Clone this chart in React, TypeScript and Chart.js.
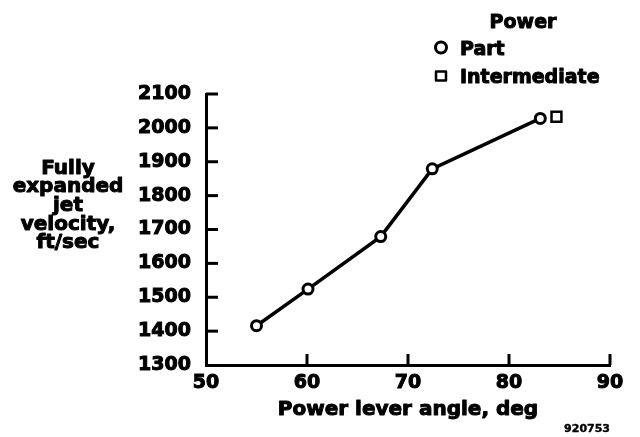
import React, { useEffect, useRef } from "react";
import { Chart, registerables } from "chart.js";

Chart.register(...registerables);

// ---- data ----
const partAngle = [55.0, 60.1, 67.3, 72.4, 83.1];
const partVelocity = [1416, 1524, 1679, 1879, 2028];
const intermediateAngle = [84.7];
const intermediateVelocity = [2033];

const xTickValues = [50, 60, 70, 80, 90];
const yTickValues = [1300, 1400, 1500, 1600, 1700, 1800, 1900, 2000, 2100];

const xTitle = "Power lever angle, deg";
const yTitleLines = ["Fully", "expanded", "jet", "velocity,", "ft/sec"];
const legendTitle = "Power";
const seriesNames = ["Part", "Intermediate"];
const figureId = "920753";

const FONT = '"DejaVu Sans", "Liberation Sans", Arial, sans-serif';

function heavyText(ctx: CanvasRenderingContext2D, t: string, x: number, y: number, sw: number) {
  ctx.lineWidth = sw;
  ctx.lineJoin = "round";
  ctx.strokeText(t, x, y);
  ctx.fillText(t, x, y);
}

const decorPlugin = {
  id: "decor",
  afterDraw(chart: any) {
    const { ctx, chartArea, scales } = chart;
    const xs = scales.x;
    const ys = scales.y;
    ctx.save();
    ctx.strokeStyle = "#000";
    ctx.fillStyle = "#000";
    ctx.lineWidth = 3;
    ctx.lineCap = "butt";
    // inward ticks on y axis
    yTickValues.forEach((v) => {
      if (v === yTickValues[0]) return;
      const py = ys.getPixelForValue(v);
      ctx.beginPath();
      ctx.moveTo(chartArea.left, py);
      ctx.lineTo(chartArea.left + 12, py);
      ctx.stroke();
    });
    // inward ticks on x axis
    xTickValues.forEach((v) => {
      if (v === xTickValues[0]) return;
      const px = xs.getPixelForValue(v);
      ctx.beginPath();
      ctx.moveTo(px, chartArea.bottom);
      ctx.lineTo(px, chartArea.bottom - 11);
      ctx.stroke();
    });

    // x title
    ctx.font = `bold 20px ${FONT}`;
    ctx.textAlign = "center";
    ctx.textBaseline = "alphabetic";
    heavyText(ctx, xTitle, (chartArea.left + chartArea.right) / 2, 415, 1);

    // y title (horizontal, multi-line)
    yTitleLines.forEach((t, i) => {
      heavyText(ctx, t, 68, 173.5 + i * 18.7, 1);
    });

    // legend
    ctx.font = `bold 19px ${FONT}`;
    ctx.textAlign = "center";
    heavyText(ctx, legendTitle, 523, 28, 1);
    ctx.textAlign = "left";
    heavyText(ctx, seriesNames[0], 460, 55, 1);
    heavyText(ctx, seriesNames[1], 460, 83, 1);
    ctx.lineWidth = 3;
    ctx.fillStyle = "#fff";
    ctx.beginPath();
    ctx.arc(441, 47.5, 5.5, 0, Math.PI * 2);
    ctx.fill();
    ctx.stroke();
    ctx.lineWidth = 2.5;
    ctx.beginPath();
    ctx.rect(436, 71.5, 10, 9);
    ctx.fill();
    ctx.stroke();

    // figure id
    ctx.fillStyle = "#000";
    ctx.font = `bold 11px ${FONT}`;
    ctx.textAlign = "right";
    heavyText(ctx, figureId, 610, 432, 0.4);
    ctx.restore();
  },
};

export default function App() {
  const ref = useRef<HTMLCanvasElement | null>(null);

  useEffect(() => {
    if (!ref.current) return;
    const tickFont = { family: FONT, size: 19, weight: "bold" as const };
    const chart = new Chart(ref.current, {
      type: "scatter",
      data: {
        datasets: [
          {
            label: seriesNames[0],
            data: partAngle.map((x, i) => ({ x, y: partVelocity[i] })),
            showLine: true,
            borderColor: "#000",
            borderWidth: 3.5,
            pointStyle: "circle",
            pointRadius: 5,
            pointBorderWidth: 3,
            pointBackgroundColor: "#fff",
            pointBorderColor: "#000",
          },
          {
            label: seriesNames[1],
            data: intermediateAngle.map((x, i) => ({ x, y: intermediateVelocity[i] })),
            showLine: false,
            pointStyle: "rect",
            pointRadius: 7,
            pointBorderWidth: 2.5,
            pointBackgroundColor: "#fff",
            pointBorderColor: "#000",
          },
        ],
      },
      options: {
        responsive: false,
        animation: false,
        layout: { padding: { top: 94, right: 30, left: 0, bottom: 0 } },
        plugins: {
          legend: { display: false },
          tooltip: { enabled: false },
        },
        scales: {
          x: {
            type: "linear",
            min: 50,
            max: 90,
            afterBuildTicks: (s: any) => {
              s.ticks = xTickValues.map((v) => ({ value: v }));
            },
            afterFit: (s: any) => {
              s.height = 72;
            },
            grid: { display: false, drawTicks: false },
            border: { display: true, color: "#000", width: 3 },
            ticks: {
              padding: 7,
              color: "#000",
              font: tickFont,
              textStrokeColor: "#000",
              textStrokeWidth: 1,
              callback: (v: any) => String(v),
            },
          },
          y: {
            type: "linear",
            min: 1300,
            max: 2100,
            afterBuildTicks: (s: any) => {
              s.ticks = yTickValues.map((v) => ({ value: v }));
            },
            afterFit: (s: any) => {
              s.width = 206;
            },
            grid: { display: false, drawTicks: false },
            border: { display: true, color: "#000", width: 3 },
            ticks: {
              padding: 15,
              color: "#000",
              font: tickFont,
              textStrokeColor: "#000",
              textStrokeWidth: 1,
              callback: (v: any) => String(v),
            },
          },
        },
      },
      plugins: [decorPlugin],
    });
    return () => chart.destroy();
  }, []);

  return (
    <div style={{ position: "fixed", left: 0, top: 0, width: 640, height: 437, background: "#fff" }}>
      <canvas ref={ref} width={640} height={437} style={{ display: "block" }} />
    </div>
  );
}
